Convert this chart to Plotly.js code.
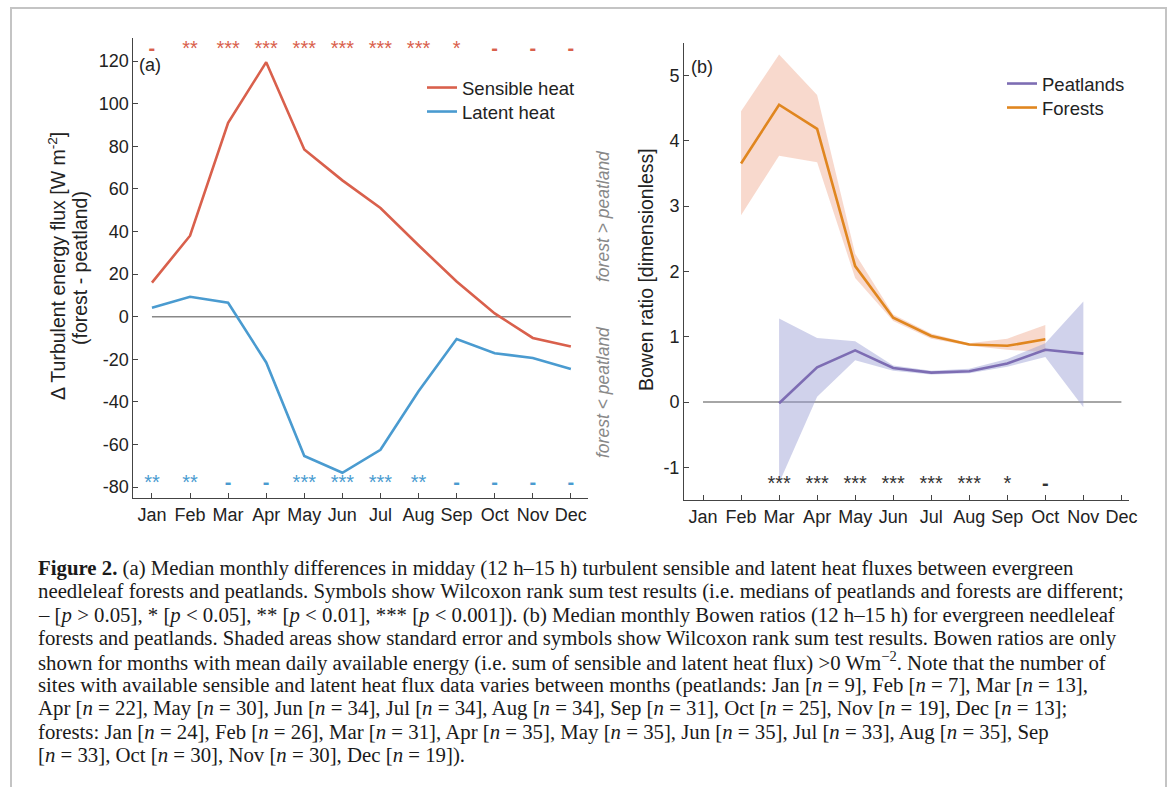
<!DOCTYPE html>
<html><head><meta charset="utf-8">
<script src="https://cdn.plot.ly/plotly-3.0.1.min.js"></script>
<style>html,body{margin:0;padding:0;background:#fff;} #chart{width:1173px;height:787px;}</style>
</head><body><div id="chart"></div>
<script>
// ---------- data ----------
const months = ['Jan','Feb','Mar','Apr','May','Jun','Jul','Aug','Sep','Oct','Nov','Dec'];
const monthNum = [1,2,3,4,5,6,7,8,9,10,11,12];

// (a) forest - peatland differences [W m-2]
const sensibleHeat = [16, 38, 91, 119.5, 78.5, 64, 51, 33.5, 16.5, 1.5, -10, -14];
const latentHeat   = [4.2, 9.3, 6.5, -21.5, -65.4, -73.3, -62.5, -35, -10.5, -17.2, -19.4, -24.6];
const sigSensible  = ['-','**','***','***','***','***','***','***','*','-','-','-'];
const sigLatent    = ['**','**','-','-','***','***','***','**','-','-','-','-'];

// (b) Bowen ratios
const forestMonths = [2,3,4,5,6,7,8,9,10];
const forestBowen  = [3.65, 4.55, 4.18, 2.08, 1.29, 1.01, 0.88, 0.86, 0.96];
const forestHi     = [4.45, 5.32, 4.70, 2.27, 1.34, 1.05, 0.90, 0.97, 1.18];
const forestLo     = [2.86, 3.77, 3.67, 1.90, 1.24, 0.97, 0.86, 0.80, 0.76];
const peatMonths   = [3,4,5,6,7,8,9,10,11];
const peatBowen    = [-0.02, 0.53, 0.79, 0.52, 0.45, 0.47, 0.59, 0.80, 0.74];
const peatHi       = [1.28, 0.98, 0.93, 0.56, 0.48, 0.51, 0.66, 0.90, 1.54];
const peatLo       = [-1.24, 0.08, 0.64, 0.48, 0.42, 0.44, 0.54, 0.69, -0.08];
const sigBowenMonths = [3,4,5,6,7,8,9,10];
const sigBowen       = ['***','***','***','***','***','***','*','-'];

const yTicksA = [-80,-60,-40,-20,0,20,40,60,80,100,120];
const yTicksB = [-1,0,1,2,3,4,5];

const captionLines = [
 '<b>Figure 2.</b> (a) Median monthly differences in midday (12 h–15 h) turbulent sensible and latent heat fluxes between evergreen',
 'needleleaf forests and peatlands. Symbols show Wilcoxon rank sum test results (i.e. medians of peatlands and forests are different;',
 '– [<i>p</i> &gt; 0.05], * [<i>p</i> &lt; 0.05], ** [<i>p</i> &lt; 0.01], *** [<i>p</i> &lt; 0.001]). (b) Median monthly Bowen ratios (12 h–15 h) for evergreen needleleaf',
 'forests and peatlands. Shaded areas show standard error and symbols show Wilcoxon rank sum test results. Bowen ratios are only',
 'shown for months with mean daily available energy (i.e. sum of sensible and latent heat flux) &gt;0 Wm<sup>−2</sup>. Note that the number of',
 'sites with available sensible and latent heat flux data varies between months (peatlands: Jan [<i>n</i> = 9], Feb [<i>n</i> = 7], Mar [<i>n</i> = 13],',
 'Apr [<i>n</i> = 22], May [<i>n</i> = 30], Jun [<i>n</i> = 34], Jul [<i>n</i> = 34], Aug [<i>n</i> = 34], Sep [<i>n</i> = 31], Oct [<i>n</i> = 25], Nov [<i>n</i> = 19], Dec [<i>n</i> = 13];',
 'forests: Jan [<i>n</i> = 24], Feb [<i>n</i> = 26], Mar [<i>n</i> = 31], Apr [<i>n</i> = 35], May [<i>n</i> = 35], Jun [<i>n</i> = 35], Jul [<i>n</i> = 33], Aug [<i>n</i> = 35], Sep',
 '[<i>n</i> = 33], Oct [<i>n</i> = 30], Nov [<i>n</i> = 30], Dec [<i>n</i> = 19]).'
];

// ---------- styles ----------
const W = 1173, H = 787;
const px = x => x / W;
const py = y => 1 - y / H;
const SANS = 'Liberation Sans, Arial, sans-serif';
const SERIF = 'Liberation Serif, Times New Roman, serif';
const cRed = '#d9604c', cBlue = '#4a9bd0', cOrange = '#e0861f', cPurple = '#7d6db3';
const cBandF = 'rgba(240,170,145,0.45)', cBandP = 'rgba(150,155,210,0.45)';
const sigFmt = s => s === '-' ? '<b>-</b>' : s;

const traces = [];
// panel a
traces.push({x: monthNum, y: sensibleHeat, xaxis:'x', yaxis:'y', mode:'lines', name:'Sensible heat',
  line:{color:cRed, width:2.6}, legend:'legend'});
traces.push({x: monthNum, y: latentHeat, xaxis:'x', yaxis:'y', mode:'lines', name:'Latent heat',
  line:{color:cBlue, width:2.6}, legend:'legend2'});
traces.push({x: monthNum, y: monthNum.map(()=>125), text: sigSensible.map(sigFmt), mode:'text', xaxis:'x', yaxis:'y',
  textfont:{family:SANS, size:20, color:cRed}, showlegend:false, hoverinfo:'skip'});
traces.push({x: monthNum, y: monthNum.map(()=>-78.5), text: sigLatent.map(sigFmt), mode:'text', xaxis:'x', yaxis:'y',
  textfont:{family:SANS, size:20, color:cBlue}, showlegend:false, hoverinfo:'skip'});

// panel b bands
traces.push({x: forestMonths.concat(forestMonths.slice().reverse()), y: forestHi.concat(forestLo.slice().reverse()),
  xaxis:'x2', yaxis:'y2', mode:'lines', fill:'toself', fillcolor:cBandF, line:{width:0}, showlegend:false, hoverinfo:'skip'});
traces.push({x: peatMonths.concat(peatMonths.slice().reverse()), y: peatHi.concat(peatLo.slice().reverse()),
  xaxis:'x2', yaxis:'y2', mode:'lines', fill:'toself', fillcolor:cBandP, line:{width:0}, showlegend:false, hoverinfo:'skip'});
traces.push({x: peatMonths, y: peatBowen, xaxis:'x2', yaxis:'y2', mode:'lines', name:'Peatlands',
  line:{color:cPurple, width:2.6}, legend:'legend3'});
traces.push({x: forestMonths, y: forestBowen, xaxis:'x2', yaxis:'y2', mode:'lines', name:'Forests',
  line:{color:cOrange, width:2.6}, legend:'legend4'});
traces.push({x: sigBowenMonths, y: sigBowenMonths.map(()=>-1.27), text: sigBowen.map(sigFmt), mode:'text', xaxis:'x2', yaxis:'y2',
  textfont:{family:SANS, size:20, color:'#333'}, showlegend:false, hoverinfo:'skip'});

const axisCommon = {showline:true, linecolor:'#444', linewidth:1, ticks:'inside', ticklen:5, tickcolor:'#444',
  showgrid:false, zeroline:false, mirror:false, tickfont:{family:SANS, size:18, color:'#222'}, fixedrange:true};

const TITLE_SIZE = 19.5;
const annotations = [];
annotations.push({text:'(a)', x:px(137), y:py(65), xref:'paper', yref:'paper', xanchor:'left', yanchor:'middle', showarrow:false,
  font:{family:SANS, size:18, color:'#222'}});
annotations.push({text:'(b)', x:px(689), y:py(67), xref:'paper', yref:'paper', xanchor:'left', yanchor:'middle', showarrow:false,
  font:{family:SANS, size:18, color:'#222'}});
annotations.push({text:'Δ Turbulent energy flux [W m<sup>-2</sup>]', x:px(57), y:py(266), xref:'paper', yref:'paper', textangle:-90,
  xanchor:'center', yanchor:'middle', showarrow:false, font:{family:SANS, size:TITLE_SIZE, color:'#222'}});
annotations.push({text:'(forest - peatland)', x:px(80), y:py(268), xref:'paper', yref:'paper', textangle:-90,
  xanchor:'center', yanchor:'middle', showarrow:false, font:{family:SANS, size:TITLE_SIZE, color:'#222'}});
annotations.push({text:'Bowen ratio [dimensionless]', x:px(646), y:py(270), xref:'paper', yref:'paper', textangle:-90,
  xanchor:'center', yanchor:'middle', showarrow:false, font:{family:SANS, size:TITLE_SIZE, color:'#222'}});
annotations.push({text:'<i>forest &gt; peatland</i>', x:px(603), y:py(216), xref:'paper', yref:'paper', textangle:-90,
  xanchor:'center', yanchor:'middle', showarrow:false, font:{family:SANS, size:17.5, color:'#888'}});
annotations.push({text:'<i>forest &lt; peatland</i>', x:px(603), y:py(392), xref:'paper', yref:'paper', textangle:-90,
  xanchor:'center', yanchor:'middle', showarrow:false, font:{family:SANS, size:17.5, color:'#888'}});
captionLines.forEach((t,i) => {
  annotations.push({text:t, x:px(36), y:py(568 + i*23.4), xref:'paper', yref:'paper', xanchor:'left', yanchor:'middle',
    align:'left', showarrow:false, font:{family:SERIF, size:20.8, color:'#1a1a1a'}});
});

const legFont = {family:SANS, size:18.5, color:'#222'};
const legBase = {xanchor:'left', yanchor:'middle', bgcolor:'rgba(0,0,0,0)', font:legFont, borderwidth:0};

const layout = {
  width:W, height:H, margin:{l:0,r:0,t:0,b:0}, paper_bgcolor:'#fff', plot_bgcolor:'rgba(0,0,0,0)',
  xaxis: Object.assign({}, axisCommon, {domain:[px(133.3), px(588)], range:[0.51, 12.45], tickvals:monthNum, ticktext:months, anchor:'y'}),
  yaxis: Object.assign({}, axisCommon, {domain:[py(498.3), py(38.3)], range:[-85.3, 130.7], tickvals:yTicksA, ticktext:yTicksA.map(String), anchor:'x'}),
  xaxis2: Object.assign({}, axisCommon, {domain:[px(684), px(1129)], range:[0.5, 12.2], tickvals:monthNum, ticktext:months, anchor:'y2'}),
  yaxis2: Object.assign({}, axisCommon, {domain:[py(500), py(42.7)], range:[-1.5, 5.5], tickvals:yTicksB, ticktext:yTicksB.map(String), anchor:'x2'}),
  legend:  Object.assign({}, legBase, {x:px(422), y:py(88)}),
  legend2: Object.assign({}, legBase, {x:px(422), y:py(112)}),
  legend3: Object.assign({}, legBase, {x:px(1002), y:py(84)}),
  legend4: Object.assign({}, legBase, {x:px(1002), y:py(108)}),
  shapes: [
    {type:'line', xref:'x', yref:'y', x0:monthNum[0], x1:monthNum[11], y0:0, y1:0, line:{color:'#888', width:1.5}, layer:'below'},
    {type:'line', xref:'x2', yref:'y2', x0:monthNum[0], x1:monthNum[11], y0:0, y1:0, line:{color:'#888', width:1.5}, layer:'below'},
    {type:'rect', xref:'paper', yref:'paper', x0:px(11), x1:px(1166), y0:py(800), y1:py(8), line:{color:'#c4c4c4', width:2}, fillcolor:'rgba(0,0,0,0)', layer:'below'}
  ],
  annotations: annotations,
  showlegend:true
};

Plotly.newPlot('chart', traces, layout, {staticPlot:true, displayModeBar:false});
</script></body></html>
